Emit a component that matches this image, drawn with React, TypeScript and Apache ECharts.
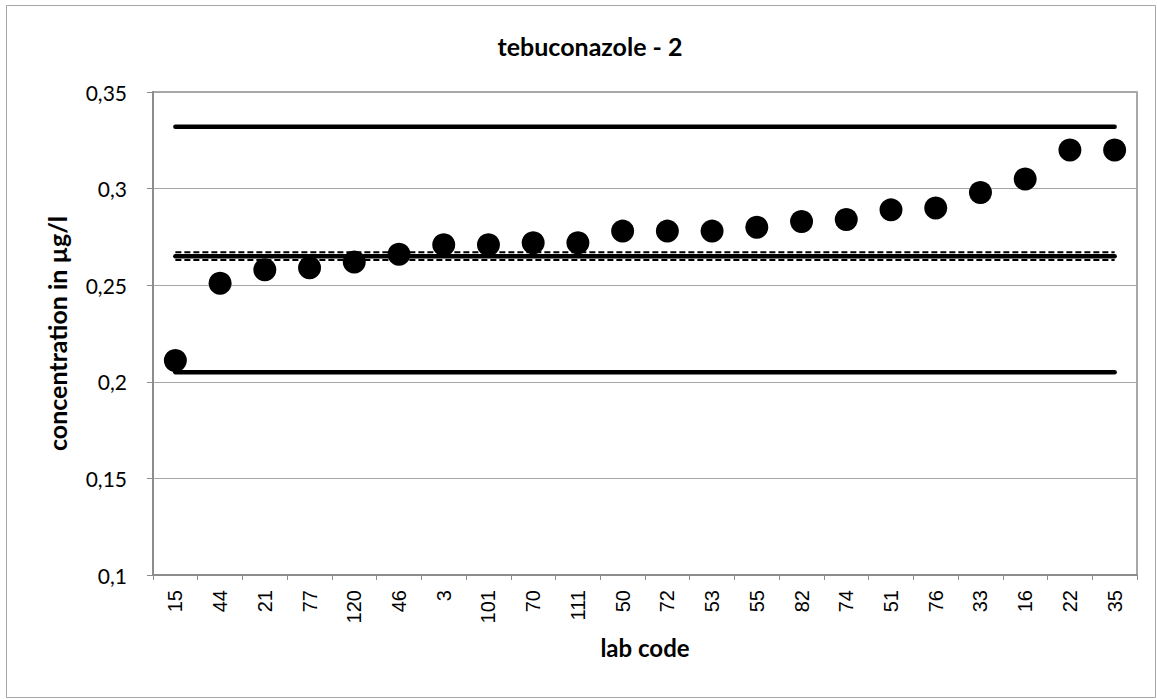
import React, { useEffect, useRef } from "react";
import * as echarts from "echarts";

const labCodes = ["15", "44", "21", "77", "120", "46", "3", "101", "70", "111", "50", "72", "53", "55", "82", "74", "51", "76", "33", "16", "22", "35"];
const concentrations = [0.211, 0.251, 0.258, 0.259, 0.262, 0.266, 0.271, 0.271, 0.272, 0.272, 0.278, 0.278, 0.278, 0.28, 0.283, 0.284, 0.289, 0.29, 0.298, 0.305, 0.32, 0.32];
const upperLimit = 0.332;
const lowerLimit = 0.205;
const assignedValue = 0.265;
const uncertaintyUpper = 0.267;
const uncertaintyLower = 0.263;
const yTicks = { min: 0.1, max: 0.35, interval: 0.05 };

const FONT = "Lato, 'Open Sans', sans-serif";

function refLine(name: string, value: number, width: number, dashed: boolean) {
  return {
    name,
    type: "line",
    data: [
      [labCodes[0], value],
      [labCodes[labCodes.length - 1], value],
    ],
    symbol: "none",
    lineStyle: {
      color: "#000",
      width,
      type: dashed ? [6, 3] : "solid",
      cap: dashed ? "butt" : "round",
    },
    z: 2,
    silent: true,
  };
}

export default function App() {
  const ref = useRef<HTMLDivElement>(null);
  useEffect(() => {
    document.body.style.margin = "0";
    const chart = echarts.init(ref.current!, null, { renderer: "svg" });
    chart.setOption({
      animation: false,
      backgroundColor: "#fff",
      title: {
        text: "tebuconazole - 2",
        left: 585,
        textAlign: "center",
        top: 28,
        textStyle: { fontFamily: FONT, fontWeight: "bold", fontSize: 25, color: "#000" },
      },
      grid: {
        left: 153,
        top: 92,
        right: 20,
        bottom: 124,
        show: true,
        borderColor: "#8c8c8c",
        borderWidth: 1.5,
        containLabel: false,
      },
      xAxis: {
        type: "category",
        data: labCodes,
        boundaryGap: true,
        name: "lab code",
        nameLocation: "middle",
        nameGap: 60,
        nameTextStyle: { fontFamily: FONT, fontWeight: "bold", fontSize: 24, color: "#000" },
        axisLine: { lineStyle: { color: "#8c8c8c", width: 2 } },
        axisTick: { show: true, alignWithLabel: false, length: 5, lineStyle: { color: "#8c8c8c" } },
        axisLabel: {
          rotate: 90,
          interval: 0,
          margin: 15,
          fontFamily: "'Liberation Sans', Arial, sans-serif",
          fontSize: 20,
          color: "#000",
        },
        splitLine: { show: false },
      },
      yAxis: {
        type: "value",
        min: yTicks.min,
        max: yTicks.max,
        interval: yTicks.interval,
        name: "concentration in µg/l",
        nameLocation: "middle",
        nameGap: 84,
        nameTextStyle: { fontFamily: FONT, fontWeight: "bold", fontSize: 25, color: "#000" },
        axisLine: { show: true, lineStyle: { color: "#8c8c8c", width: 2 } },
        axisTick: { show: true, length: 6, lineStyle: { color: "#8c8c8c" } },
        axisLabel: {
          margin: 26,
          fontFamily: FONT,
          fontSize: 21,
          color: "#000",
          formatter: (v: number) => parseFloat(v.toFixed(2)).toString().replace(".", ","),
        },
        splitLine: { show: true, lineStyle: { color: "#a6a6a6", width: 1.2 } },
      },
      series: [
        refLine("upper limit", upperLimit, 4.5, false),
        refLine("lower limit", lowerLimit, 4.5, false),
        refLine("assigned value", assignedValue, 4.5, false),
        refLine("uncertainty upper", uncertaintyUpper, 2, true),
        refLine("uncertainty lower", uncertaintyLower, 2, true),
        {
          name: "concentration",
          type: "scatter",
          data: concentrations,
          symbol: "circle",
          symbolSize: 23,
          itemStyle: { color: "#000", opacity: 1 },
          z: 5,
        },
      ],
      graphic: [
        {
          type: "rect",
          left: 4,
          top: 3,
          shape: { width: 1149, height: 692 },
          style: { fill: "none", stroke: "#a6a6a6", lineWidth: 1 },
          z: -1,
          silent: true,
        },
      ],
    });
    return () => chart.dispose();
  }, []);
  return <div ref={ref} style={{ width: 1157, height: 699 }} />;
}
